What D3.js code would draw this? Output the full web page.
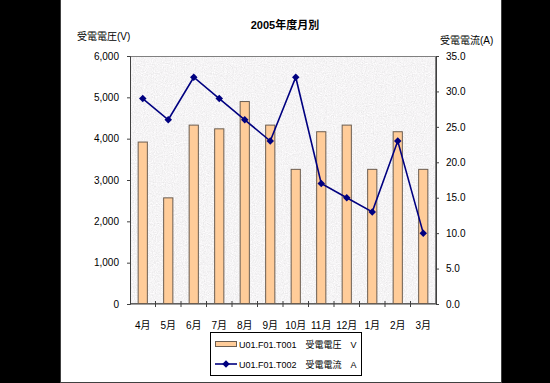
<!doctype html>
<html lang="ja">
<head>
  <meta charset="utf-8">
  <title>2005年度月別 - D3</title>
  <style>
    body { margin: 0; background: #000; }
    svg { display: block; }
    text { font-family: "Liberation Sans", "Noto Sans CJK JP", sans-serif; fill: #000; }
  </style>
</head>
<body>
  <svg></svg>
  <script src="https://cdn.jsdelivr.net/npm/d3@7"></script>
  <script>
    const months = ['4月', '5月', '6月', '7月', '8月', '9月', '10月', '11月', '12月', '1月', '2月', '3月'];
    // 受電電圧 (V)
    const voltage = [3930, 2580, 4340, 4250, 4910, 4340, 3270, 4180, 4340, 3270, 4180, 3270];
    // 受電電流 (A)
    const current = [29, 26, 32, 29, 26, 23, 32, 17, 15, 13, 23, 10];
    const leftTicks = [0, 1000, 2000, 3000, 4000, 5000, 6000];
    const rightTicks = [0, 5, 10, 15, 20, 25, 30, 35];
    const legendNames = ['U01.F01.T001\u3000受電電圧\u3000V', 'U01.F01.T002\u3000受電電流\u3000A'];

    const width = 550, height = 383;
    const plot = { left: 130, right: 436, top: 56, bottom: 304 };

    const svg = d3.select('svg')
      .attr('width', width)
      .attr('height', height)
      .attr('viewBox', [0, 0, width, height]);

    // 白い背景
    svg.append('rect')
      .attr('x', 60.5).attr('y', -1)
      .attr('width', 441).attr('height', 383.5)
      .attr('fill', '#fff')
      .attr('stroke', '#404040');

    // 花崗岩風テクスチャ
    const defs = svg.append('defs');
    const f = defs.append('filter').attr('id', 'granite')
      .attr('x', 0).attr('y', 0).attr('width', 1).attr('height', 1);
    f.append('feTurbulence').attr('type', 'fractalNoise')
      .attr('baseFrequency', 0.9).attr('numOctaves', 2).attr('seed', 3).attr('result', 'noise');
    f.append('feColorMatrix').attr('type', 'matrix')
      .attr('values', '0.33 0.33 0.33 0 0  0.33 0.33 0.33 0 0  0.33 0.33 0.33 0 0  0 0 0 0 1')
      .attr('result', 'gray');
    const ct = f.append('feComponentTransfer').attr('result', 'tone');
    ct.append('feFuncR').attr('type', 'linear').attr('slope', 0.5).attr('intercept', 0.665);
    ct.append('feFuncG').attr('type', 'linear').attr('slope', 0.5).attr('intercept', 0.655);
    ct.append('feFuncB').attr('type', 'linear').attr('slope', 0.5).attr('intercept', 0.665);
    f.append('feComposite').attr('in', 'tone').attr('in2', 'SourceGraphic').attr('operator', 'in');

    svg.append('rect')
      .attr('x', plot.left).attr('y', plot.top)
      .attr('width', plot.right - plot.left).attr('height', plot.bottom - plot.top)
      .attr('fill', '#e9e7e8')
      .attr('filter', 'url(#granite)');
    svg.append('rect')
      .attr('x', plot.left + 0.5).attr('y', plot.top + 0.5)
      .attr('width', plot.right - plot.left - 1).attr('height', plot.bottom - plot.top - 1)
      .attr('fill', 'none')
      .attr('stroke', '#808080');

    const x = d3.scaleBand()
      .domain(months)
      .range([plot.left, plot.right])
      .paddingInner(0.6)
      .paddingOuter(0.3);
    const yL = d3.scaleLinear().domain([0, 6000]).range([plot.bottom, plot.top]);
    const yR = d3.scaleLinear().domain([0, 35]).range([plot.bottom, plot.top]);

    // 左軸
    svg.append('g')
      .attr('transform', `translate(${plot.left},0)`)
      .call(d3.axisLeft(yL).tickValues(leftTicks).tickFormat(d3.format(',')).tickSize(3).tickPadding(8))
      .call(g => g.select('.domain').attr('stroke', '#404040'))
      .call(g => g.selectAll('.tick line').attr('stroke', '#404040'))
      .call(g => g.selectAll('text').attr('font-size', 10).attr('font-family', '"Liberation Sans", sans-serif'));

    // 右軸
    svg.append('g')
      .attr('transform', `translate(${plot.right},0)`)
      .call(d3.axisRight(yR).tickValues(rightTicks).tickFormat(d3.format('.1f')).tickSize(3).tickPadding(7))
      .call(g => g.select('.domain').attr('stroke', '#404040'))
      .call(g => g.selectAll('.tick line').attr('stroke', '#404040'))
      .call(g => g.selectAll('text').attr('font-size', 10).attr('font-family', '"Liberation Sans", sans-serif'));

    // 横軸
    const xAxis = svg.append('g').attr('transform', `translate(0,${plot.bottom})`);
    xAxis.append('line')
      .attr('x1', plot.left).attr('x2', plot.right)
      .attr('stroke', '#404040');
    xAxis.selectAll('.cat-tick')
      .data(months.slice(1))
      .join('line')
      .attr('class', 'cat-tick')
      .attr('x1', d => x(d) - x.step() * x.paddingInner() / 2)
      .attr('x2', d => x(d) - x.step() * x.paddingInner() / 2)
      .attr('y1', -3).attr('y2', 3)
      .attr('stroke', '#404040');
    xAxis.selectAll('.cat-label')
      .data(months)
      .join('text')
      .attr('class', 'cat-label')
      .attr('x', d => x(d) + x.bandwidth() / 2)
      .attr('y', 25)
      .attr('text-anchor', 'middle')
      .attr('font-size', 10)
      .text(d => d);

    // 棒
    svg.append('g')
      .selectAll('rect')
      .data(voltage)
      .join('rect')
      .attr('x', (d, i) => x(months[i]) + 0.5)
      .attr('y', d => yL(d) + 0.5)
      .attr('width', x.bandwidth() - 1)
      .attr('height', d => yL(0) - yL(d) - 1)
      .attr('fill', '#ffcc99')
      .attr('stroke', '#6b5d50')
      .attr('stroke-width', 1);

    // 折れ線
    const line = d3.line()
      .x((d, i) => x(months[i]) + x.bandwidth() / 2)
      .y(d => yR(d));
    svg.append('path')
      .datum(current)
      .attr('d', line)
      .attr('fill', 'none')
      .attr('stroke', '#000080')
      .attr('stroke-width', 1.6);
    const diamond = d3.symbol().type(d3.symbolDiamond2).size(36);
    svg.append('g')
      .selectAll('path')
      .data(current)
      .join('path')
      .attr('transform', (d, i) => `translate(${x(months[i]) + x.bandwidth() / 2},${yR(d)})`)
      .attr('d', diamond)
      .attr('fill', '#000080');

    // タイトル
    svg.append('text')
      .attr('x', 285).attr('y', 29)
      .attr('text-anchor', 'middle')
      .attr('font-size', 11)
      .attr('font-weight', 'bold')
      .text('2005年度月別');
    svg.append('text')
      .attr('x', 77).attr('y', 40)
      .attr('font-size', 10)
      .text('受電電圧(V)');
    svg.append('text')
      .attr('x', 440).attr('y', 44)
      .attr('font-size', 10)
      .text('受電電流(A)');

    // 凡例
    const legend = svg.append('g');
    legend.append('rect')
      .attr('x', 210.5).attr('y', 332.5)
      .attr('width', 151).attr('height', 43)
      .attr('fill', '#fff')
      .attr('stroke', '#000');
    const rows = legend.selectAll('g')
      .data(legendNames)
      .join('g')
      .attr('transform', (d, i) => `translate(0,${344 + i * 20})`);
    rows.filter((d, i) => i === 0).append('rect')
      .attr('x', 215.5).attr('y', -2.5)
      .attr('width', 21).attr('height', 5)
      .attr('fill', '#ffcc99')
      .attr('stroke', '#6b5d50');
    rows.filter((d, i) => i === 1).append('line')
      .attr('x1', 215).attr('x2', 237)
      .attr('stroke', '#000080').attr('stroke-width', 1.6);
    rows.filter((d, i) => i === 1).append('path')
      .attr('transform', 'translate(226,0)')
      .attr('d', diamond)
      .attr('fill', '#000080');
    rows.append('text')
      .attr('x', 239).attr('y', 3.5)
      .attr('font-size', 9)
      .text(d => d);
  </script>
</body>
</html>
